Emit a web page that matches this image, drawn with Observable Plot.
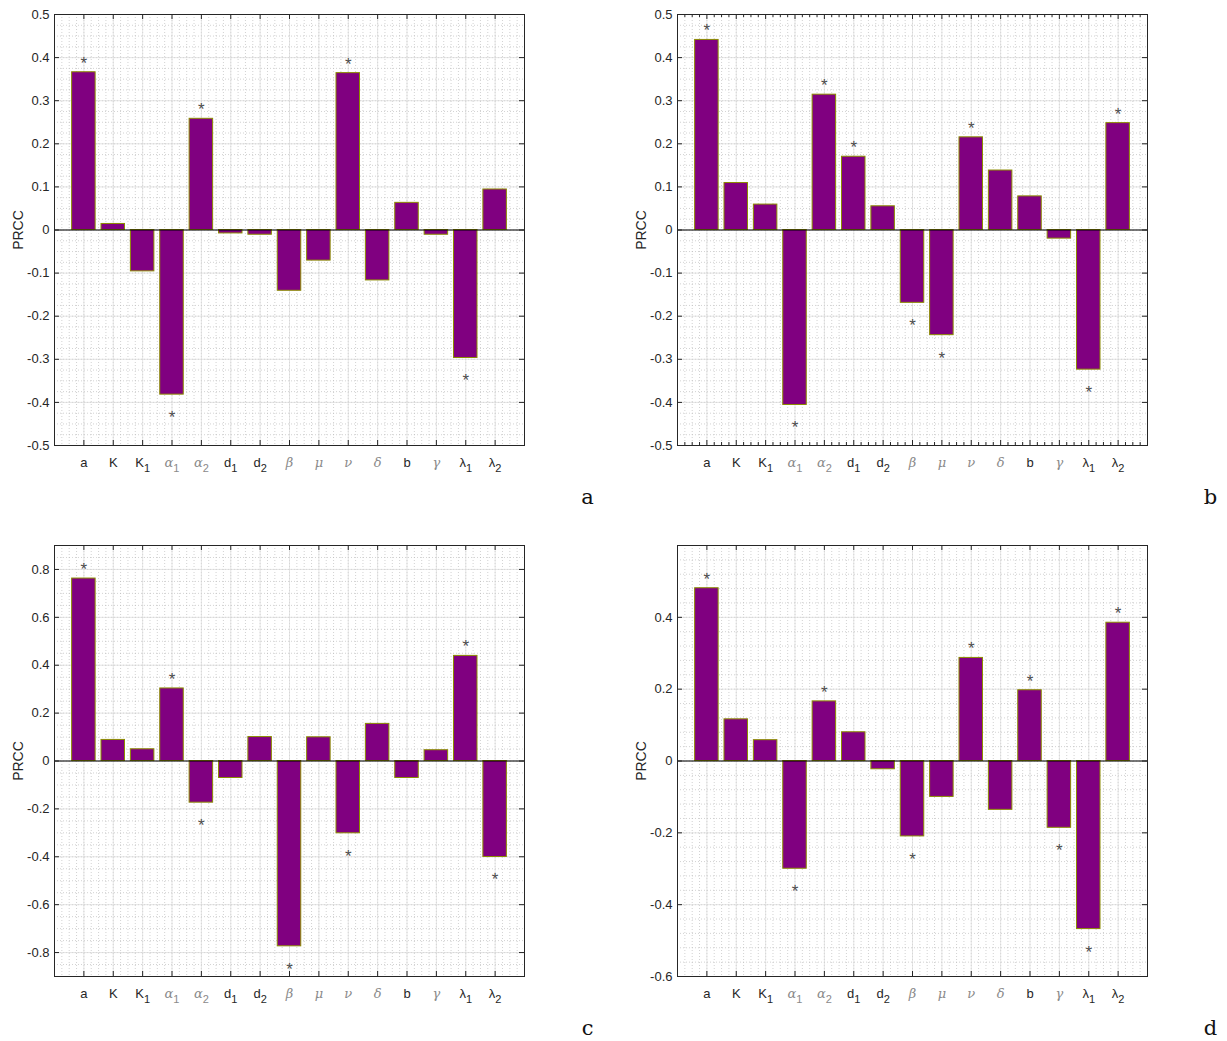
<!DOCTYPE html>
<html>
<head>
<meta charset="utf-8">
<script src="https://cdn.jsdelivr.net/npm/d3@7"></script>
<script src="https://cdn.jsdelivr.net/npm/@observablehq/plot@0.6"></script>
<style>
  body { margin: 0; background: #fff; }
  #fig { position: relative; width: 1227px; height: 1041px; overflow: hidden; }
  .panel { position: absolute; width: 604px; height: 520px; }
  .panel svg { max-width: none !important; }
</style>
</head>
<body>
<div id="fig"></div>
<script>
// Model parameters on the x axis (trailing digit is drawn as a subscript)
const params = ["a", "K", "K1", "α1", "α2", "d1", "d2", "β", "μ", "ν", "δ", "b", "γ", "λ1", "λ2"];

// PRCC values for each parameter, one array per panel
const prccA = [0.366, 0.014, -0.096, -0.382, 0.258, -0.008, -0.011, -0.141, -0.071, 0.364, -0.117, 0.063, -0.011, -0.297, 0.094];
const prccB = [0.441, 0.109, 0.059, -0.406, 0.314, 0.170, 0.055, -0.169, -0.244, 0.215, 0.138, 0.078, -0.020, -0.324, 0.248];
const prccC = [0.762, 0.088, 0.049, 0.303, -0.174, -0.071, 0.100, -0.774, 0.099, -0.302, 0.155, -0.071, 0.045, 0.439, -0.401];
const prccD = [0.481, 0.116, 0.058, -0.300, 0.166, 0.080, -0.023, -0.210, -0.100, 0.287, -0.136, 0.197, -0.186, -0.468, 0.385];

// Parameters flagged as significant (asterisk)
const starsA = ["a", "α1", "α2", "ν", "λ1"];
const starsB = ["a", "α1", "α2", "d1", "β", "μ", "ν", "λ1", "λ2"];
const starsC = ["a", "α1", "α2", "β", "ν", "λ1", "λ2"];
const starsD = ["a", "α1", "α2", "β", "ν", "b", "γ", "λ1", "λ2"];

// y tick values
const ticksAB = [-0.5, -0.4, -0.3, -0.2, -0.1, 0, 0.1, 0.2, 0.3, 0.4, 0.5];
const ticksC = [-0.8, -0.6, -0.4, -0.2, 0, 0.2, 0.4, 0.6, 0.8];
const ticksD = [-0.6, -0.4, -0.2, 0, 0.2, 0.4];

const SANS = "Liberation Sans, Arial, Helvetica, sans-serif";
const SERIF = "DejaVu Serif, Liberation Serif, serif";
const FW = 470, FH = 431, TICK = 5;

const fmt = d => (d === 0 ? "0" : d.toFixed(1));

function drawPanel(cfg) {
  const rows = params.map((p, k) => ({p, i: k + 1, v: cfg.values[k], star: cfg.stars.includes(p)}));
  const up = rows.filter(d => d.star && d.v > 0);
  const down = rows.filter(d => d.star && d.v < 0);
  const [y0, y1] = cfg.domain;
  const nMinor = Math.round((y1 - y0) / cfg.minorStep);
  const minorY = d3.range(nMinor + 1).map(k => y0 + k * cfg.minorStep);
  const cats = d3.range(1, params.length + 1);
  const minorX = d3.range(0, 4 * (params.length + 1) + 1).map(k => k / 4);
  const minorXTicks = minorX.filter(v => v % 1 !== 0);

  const marks = [
    // minor grid (dotted)
    Plot.ruleX(minorX, {x: d => d, stroke: "#b4b4b4", strokeWidth: 0.6, strokeDasharray: "1,2"}),
    Plot.ruleY(minorY, {y: d => d, stroke: "#b4b4b4", strokeWidth: 0.6, strokeDasharray: "1,2"}),
    // major grid
    Plot.ruleX(cats, {x: d => d, stroke: "#dadada", strokeWidth: 0.7}),
    Plot.ruleY(cfg.ticks, {y: d => d, stroke: "#dadada", strokeWidth: 0.7}),
    // bars
    Plot.rect(rows, {x1: d => d.i - 0.4, x2: d => d.i + 0.4, y1: 0, y2: "v",
      fill: "#800080", stroke: "#8c8c00", strokeWidth: 1}),
    Plot.ruleY([0], {y: d => d, stroke: "#000", strokeWidth: 1}),
    // significance markers
    Plot.text(up, {x: "i", y: "v", text: () => "*", dy: -9, fontSize: 17, fill: "#4d4d4d"}),
    Plot.text(down, {x: "i", y: "v", text: () => "*", dy: 23, fontSize: 17, fill: "#4d4d4d"}),
    // box and inward ticks
    Plot.frame({stroke: "#262626", strokeWidth: 1}),
    Plot.tickY(cfg.ticks, {y: d => d, insetRight: FW - TICK, stroke: "#262626"}),
    Plot.tickY(cfg.ticks, {y: d => d, insetLeft: FW - TICK, stroke: "#262626"}),
    Plot.tickX(cats, {x: d => d, insetBottom: FH - TICK, stroke: "#262626"}),
    Plot.tickX(cats, {x: d => d, insetTop: FH - TICK, stroke: "#262626"}),
  ];
  if (cfg.minorTicks) {
    marks.push(
      Plot.tickX(minorXTicks, {x: d => d, insetBottom: FH - 3, stroke: "#262626"}),
      Plot.tickX(minorXTicks, {x: d => d, insetTop: FH - 3, stroke: "#262626"})
    );
  }
  marks.push(
    Plot.axisY(cfg.ticks, {tickSize: 0, tickPadding: 5, tickFormat: fmt, fontSize: 13, label: null}),
    Plot.axisX(cats, {tickSize: 0, tickPadding: 12, tickFormat: i => params[i - 1], fontSize: 13, label: null}),
    Plot.text(["PRCC"], {frameAnchor: "left", text: d => d, rotate: -90, dx: -36,
      textAnchor: "middle", lineAnchor: "middle", fontSize: 14, fill: "#262626"}),
    Plot.text([cfg.tag], {frameAnchor: "bottom-right", text: d => d, dx: 63, dy: 52,
      textAnchor: "middle", lineAnchor: "middle", fontSize: 21, fontFamily: SERIF, fill: "#111"})
  );

  const svg = Plot.plot({
    width: 604,
    height: 520,
    marginLeft: 54,
    marginRight: 80,
    marginTop: 14,
    marginBottom: 75,
    x: {type: "linear", domain: [0, params.length + 1], label: null},
    y: {domain: cfg.domain, label: null},
    style: {color: "#262626", fontFamily: SANS, fontSize: "13px", background: "transparent", overflow: "visible"},
    marks
  });

  // subscripts and TeX-like Greek letters on the x tick labels
  d3.select(svg).selectAll('g[aria-label="x-axis tick label"] text').each(function () {
    const label = this.textContent;
    const m = label.match(/^(\D+)(\d?)$/);
    if (!m) return;
    const base = m[1], sub = m[2];
    const greek = /[α-ω]/.test(base) && base !== "λ";
    const t = d3.select(this).text(null);
    const b = t.append("tspan").text(base);
    if (greek) {
      t.attr("fill", "#8a8a8a");
      b.attr("font-family", SERIF).attr("font-style", "italic");
    }
    if (sub) t.append("tspan").attr("dy", "0.45em").attr("font-size", "11px").text(sub);
  });

  const holder = document.createElement("div");
  holder.className = "panel";
  holder.style.left = cfg.left + "px";
  holder.style.top = cfg.top + "px";
  holder.appendChild(svg);
  document.getElementById("fig").appendChild(holder);
}

drawPanel({tag: "a", values: prccA, stars: starsA, domain: [-0.5, 0.5], ticks: ticksAB, minorStep: 0.025, left: 0, top: 0});
drawPanel({tag: "b", values: prccB, stars: starsB, domain: [-0.5, 0.5], ticks: ticksAB, minorStep: 0.025, minorTicks: true, left: 623, top: 0});
drawPanel({tag: "c", values: prccC, stars: starsC, domain: [-0.9, 0.9], ticks: ticksC, minorStep: 0.05, left: 0, top: 531});
drawPanel({tag: "d", values: prccD, stars: starsD, domain: [-0.6, 0.6], ticks: ticksD, minorStep: 0.04, left: 623, top: 531});
</script>
</body>
</html>
